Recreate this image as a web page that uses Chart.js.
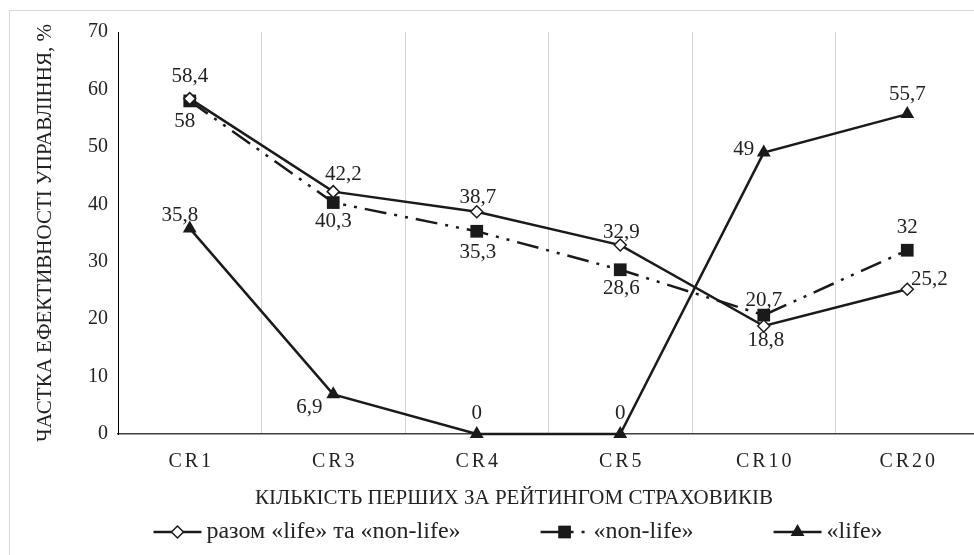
<!DOCTYPE html>
<html>
<head>
<meta charset="utf-8">
<script src="https://cdn.jsdelivr.net/npm/chart.js@4"></script>
<style>
  html, body { margin: 0; padding: 0; background: #fff; overflow: hidden; width: 974px; height: 555px; }
  #frame { position: absolute; left: 9px; top: 10px; width: 1200px; height: 900px; border: 1px solid #d9d9d9; box-sizing: border-box; }
  #wrap { position: absolute; left: 0; top: 0; width: 995px; height: 555px; }
  canvas { display: block; }
</style>
</head>
<body>
<div id="frame"></div>
<div id="wrap"><canvas id="chart" width="995" height="555"></canvas></div>
<script>
// Concentration groups and the share of management efficiency (%)
const categories = ['CR1', 'CR3', 'CR4', 'CR5', 'CR10', 'CR20'];
const totalShare = [58.4, 42.2, 38.7, 32.9, 18.8, 25.2];
const nonLifeShare = [58, 40.3, 35.3, 28.6, 20.7, 32];
const lifeShare = [35.8, 6.9, 0, 0, 49, 55.7];
const yTickValues = [0, 10, 20, 30, 40, 50, 60, 70];
const seriesNames = ['разом «life» та «non-life»', '«non-life»', '«life»'];
const yAxisTitle = 'ЧАСТКА ЕФЕКТИВНОСТІ УПРАВЛІННЯ, %';
const xAxisTitle = 'КІЛЬКІСТЬ ПЕРШИХ ЗА РЕЙТИНГОМ СТРАХОВИКІВ';

// Where each value label sits relative to its point (dx, dy in px)
const totalLabelShift = [[0, -22], [10, -17], [1, -14], [1, -13], [2, 14], [22, -10]];
const nonLifeLabelShift = [[-5, 21], [0, 19], [1, 21], [1, 19], [0, -15], [0, -23]];
const lifeLabelShift = [[-10, -13], [-24, 13], [0, -21], [0, -21], [-20, -3], [0, -20]];

const FONT = "'Liberation Serif', 'Times New Roman', serif";
const TEXT = '#222222';
const INK = '#1a1a1a';

const fmt = v => String(v).replace('.', ',');

// value labels next to every marker
const valueLabels = {
  id: 'valueLabels',
  afterDatasetsDraw(chart) {
    const ctx = chart.ctx;
    ctx.save();
    ctx.font = '21px ' + FONT;
    ctx.fillStyle = TEXT;
    ctx.textAlign = 'center';
    ctx.textBaseline = 'middle';
    chart.data.datasets.forEach((ds, i) => {
      const meta = chart.getDatasetMeta(i);
      meta.data.forEach((pt, j) => {
        const s = ds.labelShift[j];
        ctx.fillText(fmt(ds.data[j]), pt.x + s[0], pt.y + s[1]);
      });
    });
    ctx.restore();
  }
};

// letter-spaced category labels and the horizontal axis title
const axisText = {
  id: 'axisText',
  afterDraw(chart) {
    const ctx = chart.ctx;
    const x = chart.scales.x;
    ctx.save();
    ctx.fillStyle = TEXT;
    ctx.textBaseline = 'middle';
    ctx.textAlign = 'center';
    ctx.font = '20px ' + FONT;
    const ls = 3;
    ctx.letterSpacing = ls + 'px';
    categories.forEach((c, i) => {
      ctx.fillText(c, x.getPixelForValue(i) + ls / 2, 462);
    });
    ctx.letterSpacing = '0px';
    ctx.font = '21px ' + FONT;
    ctx.fillText(xAxisTitle, 514, 498);
    ctx.restore();
  }
};

// legend: short line sample with the marker, then the series name
const lineLegend = {
  id: 'lineLegend',
  afterDraw(chart) {
    const ctx = chart.ctx;
    const y = 532, lineLen = 48, textGap = 5, itemGap = 80;
    ctx.save();
    ctx.font = '24px ' + FONT;
    const items = chart.data.datasets.map(ds => ({ ds, w: lineLen + textGap + ctx.measureText(ds.label).width }));
    const total = items.reduce((a, it) => a + it.w, 0) + itemGap * (items.length - 1);
    let x0 = 518 - total / 2;
    items.forEach(({ ds, w }) => {
      ctx.save();
      ctx.strokeStyle = ds.borderColor;
      ctx.lineWidth = ds.borderWidth;
      ctx.setLineDash(ds.borderDash || []);
      ctx.beginPath();
      ctx.moveTo(x0, y);
      ctx.lineTo(x0 + lineLen, y);
      ctx.stroke();
      ctx.restore();
      ctx.save();
      ctx.fillStyle = ds.pointBackgroundColor;
      ctx.strokeStyle = ds.pointBorderColor;
      ctx.lineWidth = ds.pointBorderWidth || 0.0001;
      Chart.helpers.drawPoint(ctx, {
        pointStyle: ds.pointStyle, radius: ds.pointRadius,
        borderWidth: ds.pointBorderWidth, rotation: 0
      }, x0 + lineLen / 2, y);
      ctx.restore();
      ctx.fillStyle = TEXT;
      ctx.textAlign = 'left';
      ctx.textBaseline = 'middle';
      ctx.fillText(ds.label, x0 + lineLen + textGap, y);
      x0 += w + itemGap;
    });
    ctx.restore();
  }
};

const common = { borderColor: INK, borderWidth: 2.5, tension: 0, pointBorderColor: INK, clip: false };

new Chart(document.getElementById('chart'), {
  type: 'line',
  data: {
    labels: categories,
    datasets: [
      Object.assign({}, common, {
        label: seriesNames[0], data: totalShare, labelShift: totalLabelShift,
        pointStyle: 'rectRot', pointRadius: 6, pointBackgroundColor: '#ffffff', pointBorderWidth: 1.5
      }),
      Object.assign({}, common, {
        label: seriesNames[1], data: nonLifeShare, labelShift: nonLifeLabelShift,
        borderDash: [22, 8, 3, 8, 3, 8],
        pointStyle: 'rect', pointRadius: 9, pointBackgroundColor: INK, pointBorderWidth: 0
      }),
      Object.assign({}, common, {
        label: seriesNames[2], data: lifeShare, labelShift: lifeLabelShift,
        pointStyle: 'triangle', pointRadius: 8, pointBackgroundColor: INK, pointBorderWidth: 0
      })
    ]
  },
  options: {
    responsive: false,
    animation: false,
    devicePixelRatio: 1,
    layout: { padding: { left: 0, top: 32, right: 16, bottom: 0 } },
    plugins: { legend: { display: false }, tooltip: { enabled: false } },
    scales: {
      x: {
        offset: true,
        grid: { display: true, offset: true, color: '#d4d4d4', lineWidth: 1, drawTicks: false },
        border: { display: true, color: '#404040', width: 1.5 },
        ticks: { display: false },
        afterFit(axis) { axis.height = 121; }
      },
      y: {
        min: 0, max: 70,
        afterBuildTicks(axis) { axis.ticks = yTickValues.map(v => ({ value: v })); },
        grid: { display: false, drawTicks: false },
        border: { display: true, color: '#000000', width: 1 },
        ticks: { padding: 10, color: TEXT, font: { family: FONT, size: 20 } },
        title: {
          display: true, text: yAxisTitle, color: TEXT,
          font: { family: FONT, size: 21 }, padding: { top: 33, bottom: 0 }
        },
        afterFit(axis) { axis.width = 118; }
      }
    }
  },
  plugins: [valueLabels, axisText, lineLegend]
});
</script>
</body>
</html>
